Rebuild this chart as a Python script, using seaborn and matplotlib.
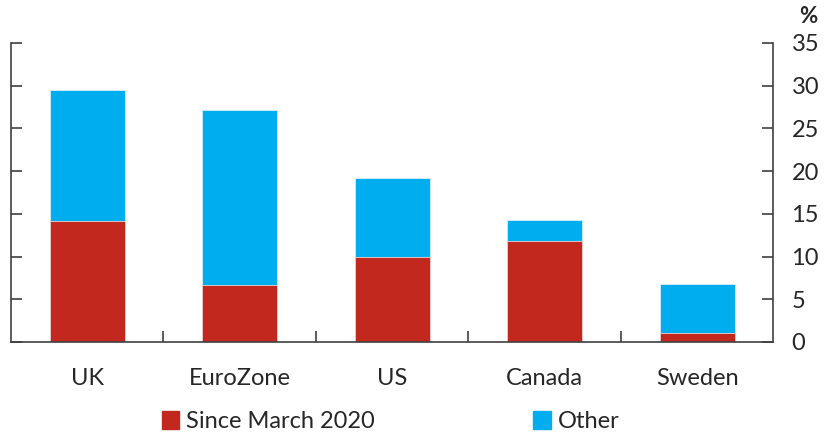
import numpy as np
import pandas as pd
import matplotlib.pyplot as plt
import seaborn as sns
from matplotlib.patches import Patch

# Data (percent)
countries = ['UK', 'EuroZone', 'US', 'Canada', 'Sweden']
since_march_2020 = [14.2, 6.7, 9.9, 11.8, 1.1]
other = [15.3, 20.4, 9.3, 2.5, 5.7]

red = '#c3281f'
blue = '#00aeef'

df = pd.DataFrame({'country': countries,
                   'since': since_march_2020,
                   'other': other})
df['total'] = df['since'] + df['other']

sns.set_style('white')
plt.rcParams['font.family'] = ['Lato', 'DejaVu Sans']

fig = plt.figure(figsize=(8.26, 4.34), dpi=100)
ax = fig.add_axes([0.0133, 0.212, 0.923, 0.689])

sns.barplot(data=df, x='country', y='total', color=blue, width=0.49,
            edgecolor='#d8eefa', linewidth=0.6, saturation=1, ax=ax)
sns.barplot(data=df, x='country', y='since', color=red, width=0.49,
            edgecolor='#f0d0d0', linewidth=0.6, saturation=1, ax=ax)

ax.set_xlim(-0.5, len(countries) - 0.5)
ax.set_ylim(0, 35)
ax.set_yticks(np.arange(0, 36, 5))
ax.set_xlabel('')
ax.set_ylabel('')

# axis styling
for side in ['left', 'right', 'bottom']:
    ax.spines[side].set_visible(True)
    ax.spines[side].set_color('#404040')
    ax.spines[side].set_linewidth(1.2)
ax.spines['top'].set_visible(False)

ax.tick_params(axis='y', which='both', direction='in', length=8, width=1.2,
               color='#404040', left=True, right=True,
               labelleft=False, labelright=True, labelsize=17, pad=13)
ax.set_xticks(np.arange(0.5, len(countries) - 1, 1), minor=True)
ax.tick_params(axis='x', which='major', length=0, labelsize=17, pad=19)
ax.tick_params(axis='x', which='minor', direction='in', length=8, width=1.2,
               color='#404040', bottom=True)

fig.text(0.968, 0.962, '%', fontsize=16, fontweight='bold', ha='left', va='center')

handles = [Patch(color=red), Patch(color=blue)]
fig.legend(handles, ['Since March 2020', 'Other'], loc='lower center',
           bbox_to_anchor=(0.473, -0.045), ncol=2, frameon=False, fontsize=17,
           handlelength=0.75, handleheight=0.75, handletextpad=0.3,
           columnspacing=6.7)

plt.savefig('out.png', dpi=100)
